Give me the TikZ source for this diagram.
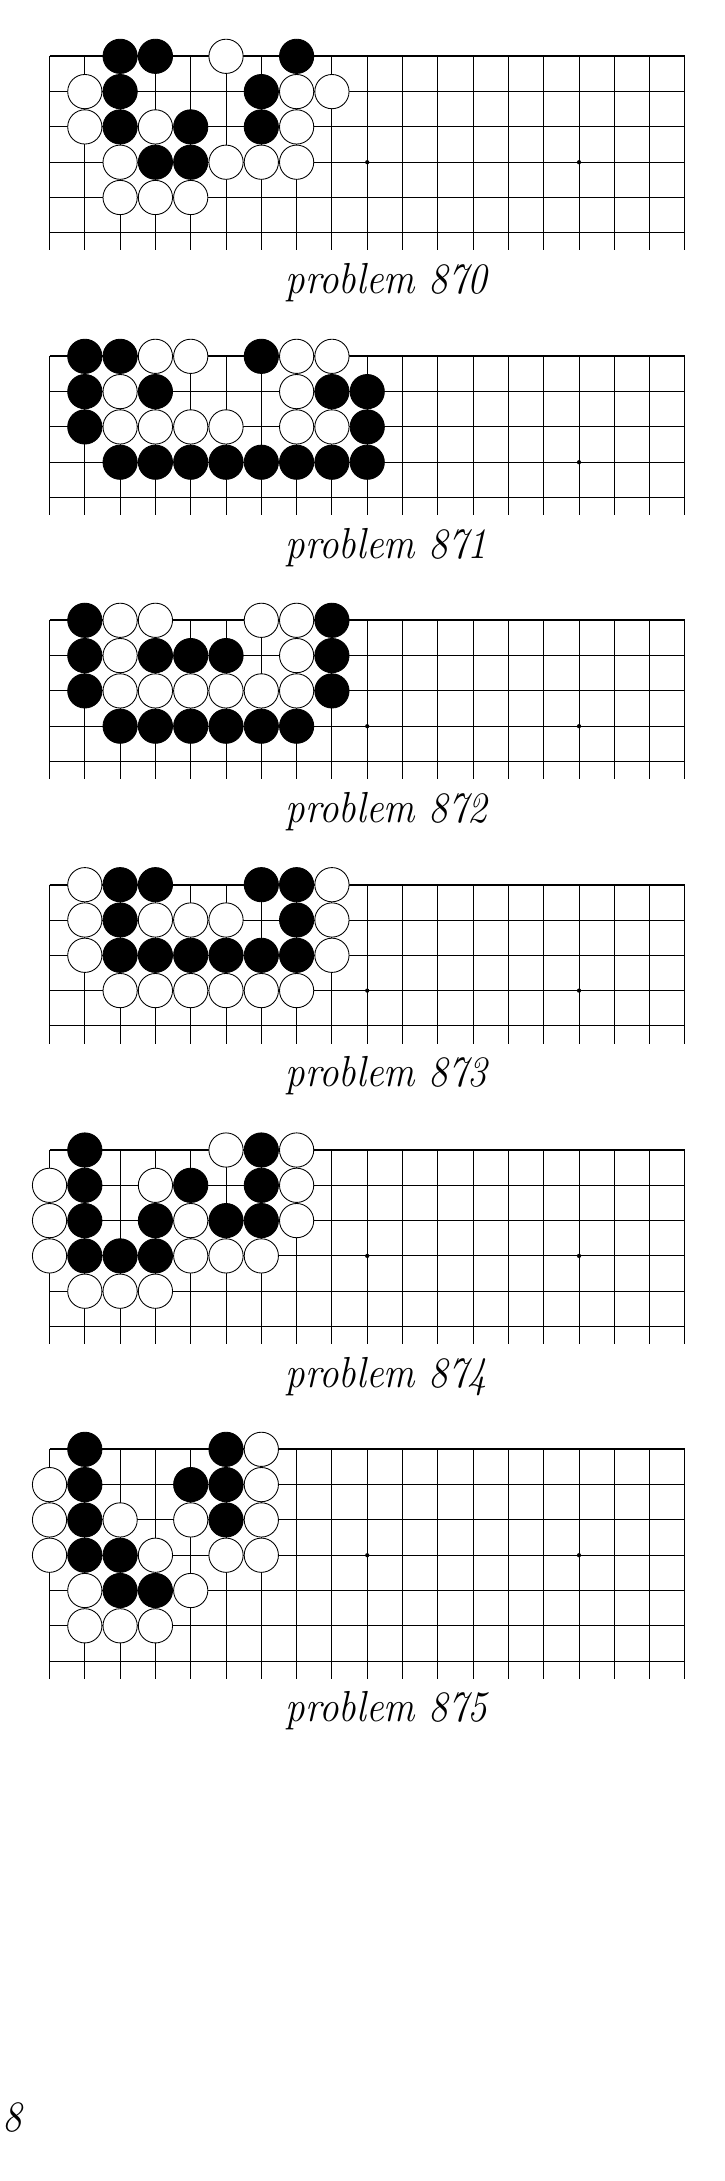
\documentclass[tikz,border=0pt]{standalone}
\tikzset{
 gridline/.style={line width=0.75pt, black},
 edgeline/.style={line width=1.4pt, black},
 stonebase/.style={circle, draw=black, line width=0.7pt, minimum size=0.97cm, inner sep=0pt},
 bstone/.style={stonebase, fill=black},
 wstone/.style={stonebase, fill=white},
 hoshi/.style={circle, fill=black, minimum size=0.12cm, inner sep=0pt},
 caption/.style={font=\fontsize{35}{40}\selectfont\itshape, xscale=0.9, anchor=base}
}
\newcommand\drawgoboard[5]{%
 \pgfmathtruncatemacro\lastrow{#3-1}%
 \foreach \c in {0,...,18} { \draw[gridline] (1.403+\c,-#2) -- (1.403+\c,-#2-\lastrow-0.5); }
 \foreach \r in {1,...,\lastrow} { \draw[gridline] (1.403,-#2-\r) -- (19.403,-#2-\r); }
 \draw[edgeline] (1.403,-#2) -- (19.403,-#2);
 \foreach \c in {3,9,15} { \node[hoshi] (#1-h\c) at (1.403+\c,-#2-3) {}; }
 \foreach \c/\r in {#4} { \node[bstone] (#1-b\c-\r) at (1.403+\c,-#2-\r) {}; }
 \foreach \c/\r in {#5} { \node[wstone] (#1-w\c-\r) at (1.403+\c,-#2-\r) {}; }
 \node[caption] (#1-cap) at (10.95,-#2-\lastrow-1.72) {problem #1};
}
\begin{document}
\begin{tikzpicture}
\useasboundingbox (0,0) rectangle (20.538,-61.785);
\fill[white] (0,0) rectangle (20.538,-61.785);
% 870
\drawgoboard{870}{1.595}{6}
 {2/0,3/0,7/0, 2/1,6/1, 2/2,4/2,6/2, 3/3,4/3}
 {5/0, 1/1,7/1,8/1, 1/2,3/2,7/2, 2/3,5/3,6/3,7/3, 2/4,3/4,4/4}
% 871
\drawgoboard{871}{10.094}{5}
 {1/0,2/0,6/0, 1/1,3/1,8/1,9/1, 1/2,9/2, 2/3,3/3,4/3,5/3,6/3,7/3,8/3,9/3}
 {3/0,4/0,7/0,8/0, 2/1,7/1, 2/2,3/2,4/2,5/2,7/2,8/2}
% 872
\drawgoboard{872}{17.572}{5}
 {1/0,8/0, 1/1,3/1,4/1,5/1,8/1, 1/2,8/2, 2/3,3/3,4/3,5/3,6/3,7/3}
 {2/0,3/0,6/0,7/0, 2/1,7/1, 2/2,3/2,4/2,5/2,6/2,7/2}
% 873
\drawgoboard{873}{25.062}{5}
 {2/0,3/0,6/0,7/0, 2/1,7/1, 2/2,3/2,4/2,5/2,6/2,7/2}
 {1/0,8/0, 1/1,3/1,4/1,5/1,8/1, 1/2,8/2, 2/3,3/3,4/3,5/3,6/3,7/3}
% 874
\drawgoboard{874}{32.578}{6}
 {1/0,6/0, 1/1,4/1,6/1, 1/2,3/2,5/2,6/2, 1/3,2/3,3/3}
 {5/0,7/0, 0/1,3/1,7/1, 0/2,4/2,7/2, 0/3,4/3,5/3,6/3, 1/4,2/4,3/4}
% 875
\drawgoboard{875}{41.057}{7}
 {1/0,5/0, 1/1,4/1,5/1, 1/2,5/2, 1/3,2/3, 2/4,3/4}
 {6/0, 0/1,6/1, 0/2,2/2,4/2,6/2, 0/3,3/3,5/3,6/3, 1/4,4/4, 1/5,2/5,3/5}
\node[caption, anchor=base west] (pagenum) at (-0.03,-60.39) {8};
\end{tikzpicture}
\end{document}
